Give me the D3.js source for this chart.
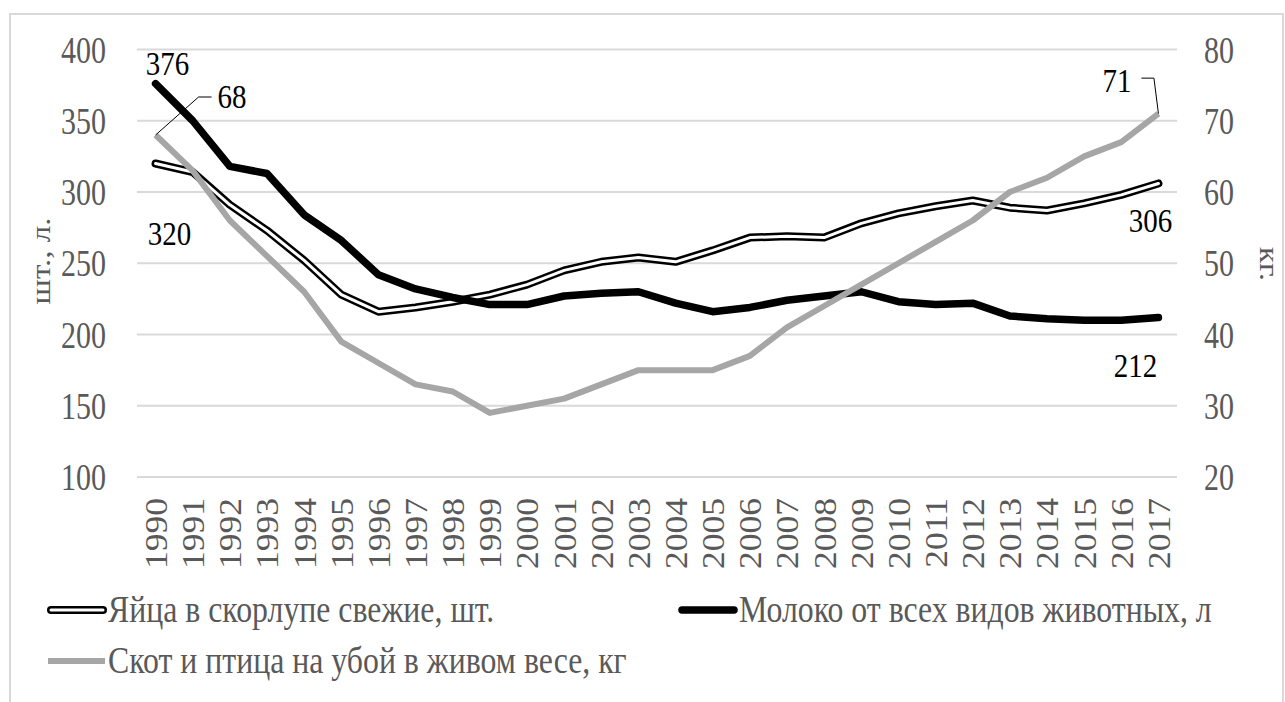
<!DOCTYPE html>
<html>
<head>
<meta charset="UTF-8" />
<title>Производство на душу населения</title>
<script src="https://d3js.org/d3.v7.min.js"></script>
<style>
  body { margin: 0; background: #fff; }
  svg { display: block; }
</style>
</head>
<body>
<div id="chart"></div>
<script>
// categories
const years = ["1990", "1991", "1992", "1993", "1994", "1995", "1996", "1997", "1998", "1999",
  "2000", "2001", "2002", "2003", "2004", "2005", "2006", "2007", "2008", "2009",
  "2010", "2011", "2012", "2013", "2014", "2015", "2016", "2017"];

// eggs, pcs (left axis)
const eggs = [320, 314, 291, 273, 252, 228, 216, 219, 223, 228, 235, 245, 251, 254, 251, 259,
  268, 269, 268, 278, 285, 290, 294, 289, 287, 292, 298, 306];
// milk, l (left axis)
const milk = [376, 350, 318, 313, 284, 266, 242, 232, 226, 221, 221, 227, 229, 230, 222, 216,
  219, 224, 227, 230, 223, 221, 222, 213, 211, 210, 210, 212];
// livestock & poultry, kg (right axis)
const cattle = [68, 63, 56, 51, 46, 39, 36, 33, 32, 29, 30, 31, 33, 35, 35, 35,
  37, 41, 44, 47, 50, 53, 56, 60, 62, 65, 67, 71];

const leftTicks = [100, 150, 200, 250, 300, 350, 400];
const rightTicks = [20, 30, 40, 50, 60, 70, 80];
const seriesNames = ["Яйца в скорлупе свежие, шт.", "Молоко от всех видов животных, л",
  "Скот и птица на убой в живом весе, кг"];
const leftTitle = "шт., л.";
const rightTitle = "кг.";

const width = 1285, height = 702;
const plot = { left: 137, right: 1177, top: 49.5, bottom: 477 };
const font = "Liberation Serif";
const grey = "#595959";
// font size / vertical stretch per kind of text (the source text is drawn tall)
const tickF = 30, tickS = 1.23;
const yearF = 32, yearS = 1.11;
const valF = 29, valS = 1.18;
const legF = 31.8, legS = 1.18;
const titleF = 28, titleS = 1.18;

const svg = d3.select("#chart").append("svg")
  .attr("width", width)
  .attr("height", height)
  .attr("viewBox", [0, 0, width, height]);

svg.append("rect")
  .attr("x", 10).attr("y", 14)
  .attr("width", 1273).attr("height", 720)
  .attr("fill", "#fff")
  .attr("stroke", "#d9d9d9")
  .attr("stroke-width", 2);

const x = d3.scalePoint().domain(years).range([plot.left, plot.right]).padding(0.5);
const yL = d3.scaleLinear().domain([100, 400]).range([plot.bottom, plot.top]);
const yR = d3.scaleLinear().domain([20, 80]).range([plot.bottom, plot.top]);

function label(x0, y0, str, anchor, fill, size, s, rot) {
  return svg.append("text")
    .attr("transform", `translate(${x0},${y0}) scale(1,${s})` + (rot ? ` rotate(${rot})` : ""))
    .attr("text-anchor", anchor)
    .attr("fill", fill)
    .attr("font-size", size)
    .style("font-family", font)
    .text(str);
}

// gridlines
svg.append("g").selectAll("line").data(leftTicks).join("line")
  .attr("x1", plot.left).attr("x2", plot.right)
  .attr("y1", d => yL(d)).attr("y2", d => yL(d))
  .attr("stroke", "#d9d9d9").attr("stroke-width", 2);

// axes
const axL = svg.append("g").attr("transform", `translate(${plot.left},0)`)
  .call(d3.axisLeft(yL).tickValues(leftTicks).tickSize(0).tickPadding(31));
const axR = svg.append("g").attr("transform", `translate(${plot.right},0)`)
  .call(d3.axisRight(yR).tickValues(rightTicks).tickSize(0).tickPadding(27));
const axX = svg.append("g").attr("transform", `translate(0,${plot.bottom})`)
  .call(d3.axisBottom(x).tickSize(0));

[axL, axR, axX].forEach(g => {
  g.attr("font-family", null);
  g.select(".domain").remove();
  g.selectAll("text").style("font-family", font).attr("fill", grey);
});
axL.selectAll("text").attr("font-size", tickF).attr("dy", "0.34em")
  .attr("transform", `scale(1,${tickS})`);
axR.selectAll("text").attr("font-size", tickF).attr("dy", "0.34em")
  .attr("transform", `scale(1,${tickS})`);
axX.selectAll("text")
  .attr("font-size", yearF)
  .attr("transform", `scale(1,${yearS}) rotate(-90)`)
  .attr("text-anchor", "end")
  .attr("x", -19).attr("y", 0).attr("dy", "0.34em");

// axis titles
label(50, 261, leftTitle, "middle", grey, titleF, titleS, -90);
label(1260, 264, rightTitle, "middle", grey, titleF, titleS, 90);

// series lines
const lineL = d3.line().x((d, i) => x(years[i])).y(d => yL(d));
const lineR = d3.line().x((d, i) => x(years[i])).y(d => yR(d));

svg.append("path").attr("d", lineL(eggs))
  .attr("fill", "none").attr("stroke", "#000").attr("stroke-width", 8)
  .attr("stroke-linecap", "round").attr("stroke-linejoin", "round");
svg.append("path").attr("d", lineL(eggs))
  .attr("fill", "none").attr("stroke", "#fff").attr("stroke-width", 3)
  .attr("stroke-linecap", "round").attr("stroke-linejoin", "round");
svg.append("path").attr("d", lineL(milk))
  .attr("fill", "none").attr("stroke", "#000").attr("stroke-width", 7.5)
  .attr("stroke-linecap", "round").attr("stroke-linejoin", "round");
svg.append("path").attr("d", lineR(cattle))
  .attr("fill", "none").attr("stroke", "#a6a6a6").attr("stroke-width", 6)
  .attr("stroke-linejoin", "round");

// data labels
const first = years[0], last = years[years.length - 1];
const n = years.length - 1;
label(x(first) + 12, yL(milk[0]) - 9, milk[0], "middle", "#000", valF, valS);
label(x(first) + 14, yL(eggs[0]) + 81, eggs[0], "middle", "#000", valF, valS);
label(x(last) - 8, yL(eggs[n]) + 49, eggs[n], "middle", "#000", valF, valS);
label(x(last) - 23, yL(milk[n]) + 60, milk[n], "middle", "#000", valF, valS);

const leader = d3.line();
const c0 = [x(first), yR(cattle[0])];
svg.append("path")
  .attr("d", leader([c0, [c0[0] + 43, c0[1] - 38], [c0[0] + 56, c0[1] - 38]]))
  .attr("fill", "none").attr("stroke", "#000").attr("stroke-width", 1);
label(c0[0] + 62, c0[1] - 27, cattle[0], "start", "#000", valF, valS);

const cN = [x(last), yR(cattle[n])];
svg.append("path")
  .attr("d", leader([cN, [cN[0] - 4.5, cN[1] - 35.5], [cN[0] - 17, cN[1] - 35.5]]))
  .attr("fill", "none").attr("stroke", "#000").attr("stroke-width", 1);
label(cN[0] - 27, cN[1] - 22, cattle[n], "end", "#000", valF, valS);

// legend
const legend = svg.append("g");
function legendItem(x0, y0, name, kind) {
  if (kind === "eggs") {
    legend.append("line").attr("x1", x0 + 4).attr("x2", x0 + 56).attr("y1", y0).attr("y2", y0)
      .attr("stroke", "#000").attr("stroke-width", 8).attr("stroke-linecap", "round");
    legend.append("line").attr("x1", x0 + 4).attr("x2", x0 + 56).attr("y1", y0).attr("y2", y0)
      .attr("stroke", "#fff").attr("stroke-width", 3).attr("stroke-linecap", "round");
  } else if (kind === "milk") {
    legend.append("line").attr("x1", x0 + 4).attr("x2", x0 + 56).attr("y1", y0).attr("y2", y0)
      .attr("stroke", "#000").attr("stroke-width", 7.5).attr("stroke-linecap", "round");
  } else {
    legend.append("line").attr("x1", x0 + 1).attr("x2", x0 + 58).attr("y1", y0).attr("y2", y0)
      .attr("stroke", "#a6a6a6").attr("stroke-width", 6);
  }
  label(x0 + 61, y0 + 12, name, "start", grey, legF, legS);
}
legendItem(47, 610, seriesNames[0], "eggs");
legendItem(678, 610, seriesNames[1], "milk");
legendItem(47, 661, seriesNames[2], "cattle");
</script>
</body>
</html>
